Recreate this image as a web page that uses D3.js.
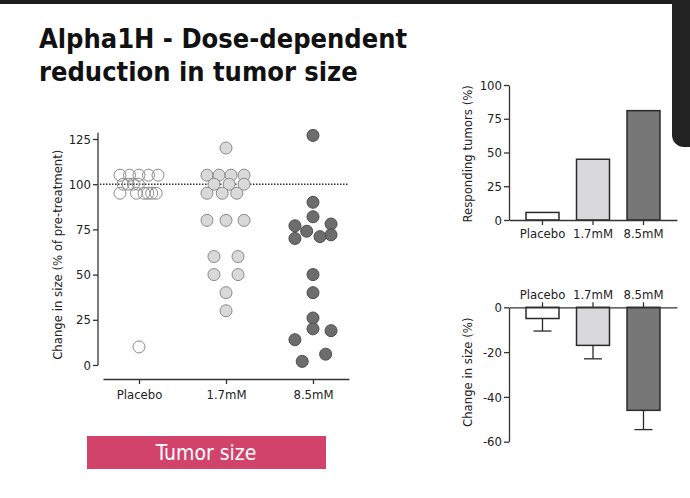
<!DOCTYPE html>
<html>
<head>
<meta charset="utf-8">
<script src="https://cdn.jsdelivr.net/npm/d3@7"></script>
<style>
  body { margin: 0; background: #fff; }
  svg text { font-family: "DejaVu Sans Condensed", "DejaVu Sans", sans-serif; fill: #222; }
</style>
</head>
<body>
<div id="chart"></div>
<script>
// groups and values
var groups = ["Placebo", "1.7mM", "8.5mM"];

// scatter: change in size (% of pre-treatment), one entry per tumor
var placeboValues = [105, 105, 105, 105, 105, 100, 100, 100, 100, 95, 95, 95, 95, 95, 95, 10];
var placeboSlot   = [-3, -1.5, 0, 1.5, 3, -2.5, -1.7, -0.9, -0.1, -3, -0.4, 0.8, 1.4, 2, 2.7, 0];
var lowValues  = [120, 105, 105, 105, 105, 100, 100, 100, 95, 95, 95, 80, 80, 80, 60, 60, 50, 50, 40, 30];
var lowSlot    = [0, -3, -1.1, 0.8, 2.85, -1.9, 0.5, 2.85, -3, -0.6, 1.7, -3, 0, 2.85, -1.9, 1.9, -1.9, 1.9, 0, 0];
var highValues = [127, 90, 82, 78, 77, 74, 72, 71, 70, 50, 40, 26, 20, 19, 14, 6, 2];
var highSlot   = [0, 0, 0, 2.85, -2.85, -1, 2.85, 1.1, -2.85, 0, 0, 0, 0, 2.85, -2.85, 2, -1.7];

// responding tumors (%)
var responding = [5.6, 45, 81];
// mean change in size (%) and error
var meanChange = [-5, -17, -46];
var changeErr  = [5.6, 6, 8.6];

var scatterTicks = [0, 25, 50, 75, 100, 125];
var respTicks = [0, 25, 50, 75, 100];
var changeTicks = [0, -20, -40, -60];

var fills = ["#ffffff", "#d9d9dc", "#777777"];
var dotFill = ["#ffffff", "#d9d9d9", "#6d6d6d"];
var dotStroke = ["#8c8c8c", "#8a8a8a", "#4c4c4c"];

var svg = d3.select("#chart").append("svg")
    .attr("width", 690)
    .attr("height", 498);

// phone frame bits
svg.append("rect").attr("x", 0).attr("y", 0).attr("width", 690).attr("height", 4).attr("fill", "#1c1c1c");
svg.append("rect").attr("x", 672).attr("y", -10).attr("width", 40).attr("height", 157).attr("rx", 12).attr("fill", "#222");

// title
var title = svg.append("text")
    .attr("x", 39)
    .attr("y", 48)
    .style("font-size", "27px")
    .style("font-weight", "bold")
    .style("fill", "#111");
title.append("tspan").attr("x", 39).text("Alpha1H - Dose-dependent");
title.append("tspan").attr("x", 39).attr("dy", 33).text("reduction in tumor size");

var axisColor = "#333";
var fmt = d => String(d);

function styleAxis(g) {
  g.selectAll("path, line").attr("stroke", axisColor).attr("stroke-width", 1.3);
  g.selectAll("text").style("font-size", "13px").style("fill", "#222");
}

// ---------- scatter ----------
var x = d3.scalePoint().domain(groups).range([103, 349]).padding(0.414);
var y = d3.scaleLinear().domain([0, 125]).range([365, 139]);
var slot = d3.scaleLinear().domain([-3, 3]).range([-19, 19]);

svg.append("line")
    .attr("x1", 98).attr("x2", 98)
    .attr("y1", y(0)).attr("y2", y(128.5))
    .attr("stroke", axisColor).attr("stroke-width", 1.3);

svg.append("g")
    .attr("transform", "translate(98,0)")
    .call(d3.axisLeft(y).tickValues(scatterTicks).tickFormat(fmt).tickSize(5).tickPadding(2).tickSizeOuter(0))
    .call(styleAxis)
    .call(g => g.select(".domain").remove());

svg.append("g")
    .attr("transform", "translate(0,379)")
    .call(d3.axisBottom(x).tickSize(5).tickPadding(6).tickSizeOuter(0))
    .call(styleAxis);

svg.append("text")
    .attr("transform", "translate(62," + y(61) + ") rotate(-90)")
    .attr("text-anchor", "middle")
    .style("font-size", "13px")
    .text("Change in size (% of pre-treatment)");

svg.append("line")
    .attr("x1", 100).attr("x2", 349)
    .attr("y1", y(100)).attr("y2", y(100))
    .attr("stroke", "#333")
    .attr("stroke-width", 1.4)
    .attr("stroke-dasharray", "1.5,1.5");

var scatterData = [
  [placeboValues, placeboSlot],
  [lowValues, lowSlot],
  [highValues, highSlot]
];

scatterData.forEach(function(d, i) {
  var pts = d[0].map(function(v, j) { return { v: v, s: d[1][j] }; });
  svg.append("g")
    .selectAll("circle")
    .data(pts)
    .enter()
    .append("circle")
      .attr("cx", p => x(groups[i]) + slot(p.s))
      .attr("cy", p => y(p.v))
      .attr("r", 6)
      .attr("fill", dotFill[i])
      .attr("fill-opacity", i == 0 ? 0 : 1)
      .attr("stroke", dotStroke[i])
      .attr("stroke-width", 1);
});

// tumor size label box
svg.append("rect")
    .attr("x", 87).attr("y", 436)
    .attr("width", 239).attr("height", 33)
    .attr("fill", "#d1436b");
svg.append("text")
    .attr("x", 206).attr("y", 460)
    .attr("text-anchor", "middle")
    .style("font-size", "21px")
    .style("fill", "#fff")
    .text("Tumor size");

// ---------- responding tumors ----------
var xb = d3.scaleBand().domain(groups).range([509, 677]).paddingInner(0.347).paddingOuter(0.337);
var yr = d3.scaleLinear().domain([0, 100]).range([220, 85]);

svg.append("g")
    .attr("transform", "translate(509,0)")
    .call(d3.axisLeft(yr).tickValues(respTicks).tickFormat(fmt).tickSize(5).tickPadding(2).tickSizeOuter(0))
    .call(styleAxis);

svg.selectAll(".rbar")
    .data(responding)
    .enter()
    .append("rect")
      .attr("x", (d, i) => xb(groups[i]))
      .attr("y", d => yr(d))
      .attr("width", xb.bandwidth())
      .attr("height", d => yr(0) - yr(d))
      .attr("fill", (d, i) => fills[i])
      .attr("stroke", "#2a2a2a")
      .attr("stroke-width", 1.5);

svg.append("g")
    .attr("transform", "translate(0," + yr(0) + ")")
    .call(d3.axisBottom(xb).tickSize(5).tickPadding(4).tickSizeOuter(0))
    .call(styleAxis);

svg.append("text")
    .attr("transform", "translate(472," + yr(49) + ") rotate(-90)")
    .attr("text-anchor", "middle")
    .style("font-size", "13px")
    .text("Responding tumors (%)");

// ---------- mean change ----------
var yc = d3.scaleLinear().domain([-60, 0]).range([441.7, 307.3]);

svg.append("g")
    .attr("transform", "translate(509,0)")
    .call(d3.axisLeft(yc).tickValues(changeTicks).tickFormat(fmt).tickSize(5).tickPadding(2).tickSizeOuter(0))
    .call(styleAxis);

var errG = svg.append("g");
meanChange.forEach(function(m, i) {
  var cx = xb(groups[i]) + xb.bandwidth() / 2;
  errG.append("line")
    .attr("x1", cx).attr("x2", cx)
    .attr("y1", yc(m)).attr("y2", yc(m - changeErr[i]))
    .attr("stroke", "#2a2a2a").attr("stroke-width", 1.3);
  errG.append("line")
    .attr("x1", cx - 9).attr("x2", cx + 9)
    .attr("y1", yc(m - changeErr[i])).attr("y2", yc(m - changeErr[i]))
    .attr("stroke", "#2a2a2a").attr("stroke-width", 1.3);
});

svg.selectAll(".cbar")
    .data(meanChange)
    .enter()
    .append("rect")
      .attr("x", (d, i) => xb(groups[i]))
      .attr("y", yc(0))
      .attr("width", xb.bandwidth())
      .attr("height", d => yc(d) - yc(0))
      .attr("fill", (d, i) => fills[i])
      .attr("stroke", "#2a2a2a")
      .attr("stroke-width", 1.5);

svg.append("g")
    .attr("transform", "translate(0," + yc(0) + ")")
    .call(d3.axisTop(xb).tickSize(5).tickPadding(3).tickSizeOuter(0))
    .call(styleAxis);

svg.append("text")
    .attr("transform", "translate(472," + yc(-29) + ") rotate(-90)")
    .attr("text-anchor", "middle")
    .style("font-size", "13px")
    .text("Change in size (%)");
</script>
</body>
</html>
